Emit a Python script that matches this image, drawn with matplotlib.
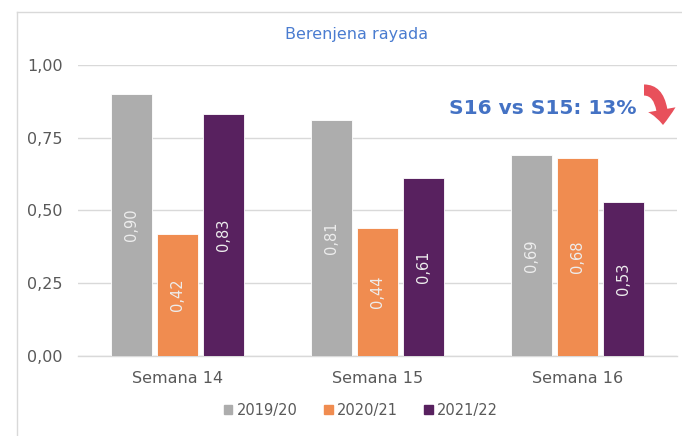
import matplotlib
matplotlib.use('Agg')
import matplotlib.pyplot as plt
from matplotlib.patches import FancyArrowPatch, Rectangle
from matplotlib.lines import Line2D
import numpy as np

# Data
weeks = ['Semana 14', 'Semana 15', 'Semana 16']
seasons = ['2019/20', '2020/21', '2021/22']
values = {
    '2019/20': [0.90, 0.81, 0.69],
    '2020/21': [0.42, 0.44, 0.68],
    '2021/22': [0.83, 0.61, 0.53],
}
colors = ['#ADADAD', '#F08C50', '#58215F']
title = 'Berenjena rayada'
note = 'S16 vs S15: 13%'

plt.rcParams['font.family'] = ['DejaVu Sans']

fig = plt.figure(figsize=(6.82, 4.36), dpi=100)
ax = fig.add_axes([78 / 682, 1 - 356 / 436, 599 / 682, 291 / 436])

x = np.arange(len(weeks))
width = 0.205
step = 0.23
for i, s in enumerate(seasons):
    bars = ax.bar(x + (i - 1) * step, values[s], width, color=colors[i],
                  edgecolor='white', linewidth=0.6, label=s, zorder=3)
    for b, v in zip(bars, values[s]):
        ax.text(b.get_x() + b.get_width() / 2, v / 2, f'{v:.2f}'.replace('.', ','),
                rotation=90, ha='center', va='center', color='#EDEDED',
                fontsize=10.5, zorder=4)

ax.set_xlim(-0.5, 2.5)
ax.set_ylim(0, 1)
ax.set_yticks([0, 0.25, 0.5, 0.75, 1.0])
ax.set_yticklabels(['0,00', '0,25', '0,50', '0,75', '1,00'])
ax.set_xticks(x)
ax.set_xticklabels(weeks)
ax.tick_params(length=0, colors='#595959')
ax.tick_params(axis='y', pad=11, labelsize=11.5)
ax.tick_params(axis='x', pad=11, labelsize=11.5)
ax.grid(axis='y', color='#D9D9D9', linewidth=1, zorder=0)
for sp in ['top', 'right', 'left']:
    ax.spines[sp].set_visible(False)
ax.spines['bottom'].set_color('#D9D9D9')
ax.spines['bottom'].set_linewidth(1)

fig.text(357 / 682, 1 - 34 / 436, title, ha='center', va='center',
         color='#4A7CD0', fontsize=11.5)

fig.text(543 / 682, 1 - 108 / 436, note, ha='center', va='center',
         color='#4472C4', fontsize=14.5, fontweight='bold')

# curved red arrow next to the note
arrow = FancyArrowPatch((644 / 682, 1 - 90 / 436), (663 / 682, 1 - 125 / 436),
                        transform=fig.transFigure,
                        connectionstyle='angle3,angleA=0,angleB=90',
                        arrowstyle='simple,head_width=20,head_length=11,tail_width=8',
                        color='#E8505B', linewidth=0, shrinkA=0, shrinkB=0)
fig.patches.append(arrow)

# chart border
fig.add_artist(Line2D([17 / 682, 17 / 682], [0, 1 - 12 / 436], transform=fig.transFigure,
                      color='#D9D9D9', linewidth=1))
fig.add_artist(Line2D([17 / 682, 1], [1 - 12 / 436, 1 - 12 / 436], transform=fig.transFigure,
                      color='#D9D9D9', linewidth=1))

handles = [Rectangle((0, 0), 1, 1, color=c) for c in colors]
fig.legend(handles, seasons, loc='center', bbox_to_anchor=(361 / 682, 1 - 410 / 436),
           ncol=3, frameon=False, fontsize=10.5, labelcolor='#595959',
           handlelength=0.6, handleheight=0.6, handletextpad=0.3, columnspacing=1.8)

fig.savefig('out.png', dpi=100)
